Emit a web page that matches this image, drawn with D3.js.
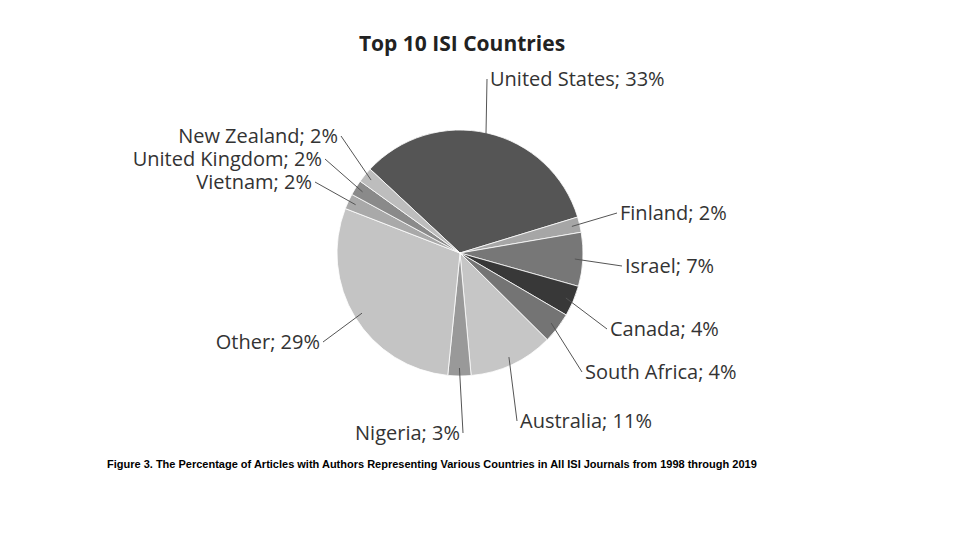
<!DOCTYPE html>
<html><head><meta charset="utf-8">
<script src="https://cdn.jsdelivr.net/npm/d3@7"></script>
<style>body{margin:0;background:#fff}</style>
</head><body>
<div class="container"></div>
<script>
const countries = ["United States","Finland","Israel","Canada","South Africa","Australia","Nigeria","Other","Vietnam","United Kingdom","New Zealand"];
const shares = [33,2,7,4,4,11,3,29,2,2,2];
const shades = ["#555","#a6a6a6","#777","#383838","#747474","#c6c6c6","#999","#c4c4c4","#a9a9a9","#8a8a8a","#bdbdbd"];
// label anchor [x, y, text-anchor]
const labelAt = [[490,86,"start"],[620,220,"start"],[625,273,"start"],[610,336,"start"],[585,379,"start"],[520,428,"start"],[460,440,"end"],[320,349,"end"],[312,189,"end"],[322,166,"end"],[338,143,"end"]];

const W = 960, H = 540, cx = 460, cy = 253, r = 123;
const svg = d3.select(".container").append("svg").attr("width", W).attr("height", H);

svg.append("text").attr("x", 462).attr("y", 51).attr("text-anchor", "middle")
    .attr("font-family", "Open Sans").attr("font-weight", "bold").attr("font-size", 21)
    .attr("fill", "#222").text("Top 10 ISI Countries");

const start = -47 * Math.PI / 180;
const pie = d3.pie().sort(null).startAngle(start).endAngle(start + 2 * Math.PI);
const arcs = pie(shares);
const arc = d3.arc().innerRadius(0).outerRadius(r);

const g = svg.append("g").attr("transform", `translate(${cx},${cy})`);
g.selectAll("path").data(arcs).enter().append("path")
    .attr("d", arc).attr("fill", (d, i) => shades[i])
    .attr("stroke", "#fff").attr("stroke-width", 0.8);

const edge = d3.arc().innerRadius(r - 8).outerRadius(r - 8);
svg.selectAll("line.lead").data(arcs).enter().append("line")
    .attr("x1", d => cx + edge.centroid(d)[0])
    .attr("y1", d => cy + edge.centroid(d)[1])
    .attr("x2", (d, i) => labelAt[i][0] + (labelAt[i][2] === "start" ? -3 : 3))
    .attr("y2", (d, i) => labelAt[i][1] - 7)
    .attr("stroke", "#555").attr("stroke-width", 1);

svg.selectAll("text.lab").data(arcs).enter().append("text")
    .attr("x", (d, i) => labelAt[i][0]).attr("y", (d, i) => labelAt[i][1])
    .attr("text-anchor", (d, i) => labelAt[i][2])
    .attr("font-family", "Open Sans").attr("font-size", 20).attr("fill", "#333")
    .text((d, i) => `${countries[i]}; ${shares[i]}%`);

svg.append("text").attr("x", 107).attr("y", 468)
    .attr("font-family", "Liberation Sans").attr("font-weight", "bold").attr("font-size", 11)
    .attr("fill", "#000")
    .text("Figure 3. The Percentage of Articles with Authors Representing Various Countries in All ISI Journals from 1998 through 2019");
</script>
</body></html>
